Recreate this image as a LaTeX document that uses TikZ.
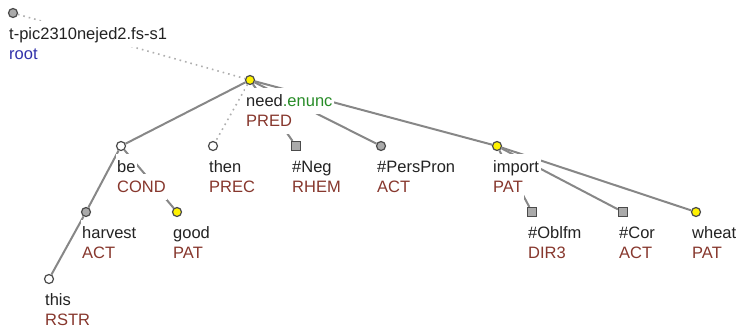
\documentclass[tikz,border=0pt]{standalone}
\usepackage{fontspec}
\setmainfont{Liberation Sans}
\usetikzlibrary{backgrounds,calc}
\definecolor{fun}{RGB}{135,55,45}
\definecolor{wordc}{RGB}{35,35,35}
\definecolor{rootc}{RGB}{50,50,170}
\definecolor{enc}{RGB}{40,140,40}
\definecolor{edgec}{RGB}{135,135,135}
\definecolor{dotc}{RGB}{175,175,175}
\definecolor{nodeline}{RGB}{75,75,75}
\definecolor{nodegrey}{RGB}{170,170,170}
\tikzset{
  tn/.style={circle, draw=nodeline, line width=1.2pt, minimum size=9pt, inner sep=0pt},
  yel/.style={tn, fill=yellow},
  gry/.style={tn, fill=nodegrey},
  wht/.style={tn, fill=white},
  sq/.style={rectangle, draw=nodeline, line width=1.2pt, minimum size=9pt, inner sep=0pt, fill=nodegrey},
  wd/.style={anchor=base west, fill=white, inner sep=1.5pt, text height=17pt, text depth=6pt,
             font=\fontsize{16.5}{20}\selectfont, text=wordc},
  fn/.style={wd, text=fun},
  edge/.style={draw=edgec, line width=2pt},
  dotedge/.style={draw=dotc, line width=1.6pt, dash pattern=on 1.6pt off 4pt}
}
\newcommand\tnode[6]{%
  \node[#4] (#1) at (#2,#3) {};
  \node[fn] (#1f) at ($(#1)+(-5.5,46)$) {#6};
  \node[wd] (#1w) at ($(#1)+(-5.5,26)$) {#5};}
\begin{document}
\begin{tikzpicture}[x=1pt,y=-1pt]
\useasboundingbox (0,0) rectangle (736,327);
\tnode{root}{13}{13}{gry}{t-pic2310nejed2.fs-s1}{\textcolor{rootc}{root}}
\tnode{need}{250}{80}{yel}{need\textcolor{enc}{.enunc}}{PRED}
\tnode{be}{121}{146}{wht}{be}{COND}
\tnode{then}{213}{146}{wht}{then}{PREC}
\tnode{neg}{296}{146}{sq}{\#Neg}{RHEM}
\tnode{pers}{381}{146}{gry}{\#PersPron}{ACT}
\tnode{import}{497}{146}{yel}{import}{PAT}
\tnode{harvest}{86}{212}{gry}{harvest}{ACT}
\tnode{good}{177}{212}{yel}{good}{PAT}
\tnode{oblfm}{532}{212}{sq}{\#Oblfm}{DIR3}
\tnode{cor}{623}{212}{sq}{\#Cor}{ACT}
\tnode{wheat}{696}{212}{yel}{wheat}{PAT}
\tnode{this}{49}{279}{wht}{this}{RSTR}
\begin{scope}[on background layer]
  \draw[dotedge] (root) -- (need);
  \draw[dotedge] (need) -- (then);
  \draw[edge] (need) -- (be);
  \draw[edge] (need) -- (neg);
  \draw[edge] (need) -- (pers);
  \draw[edge] (need) -- (import);
  \draw[edge] (be) -- (harvest);
  \draw[edge] (harvest) -- (this);
  \draw[edge] (be) -- (good);
  \draw[edge] (import) -- (oblfm);
  \draw[edge] (import) -- (cor);
  \draw[edge] (import) -- (wheat);
\end{scope}
\end{tikzpicture}
\end{document}
